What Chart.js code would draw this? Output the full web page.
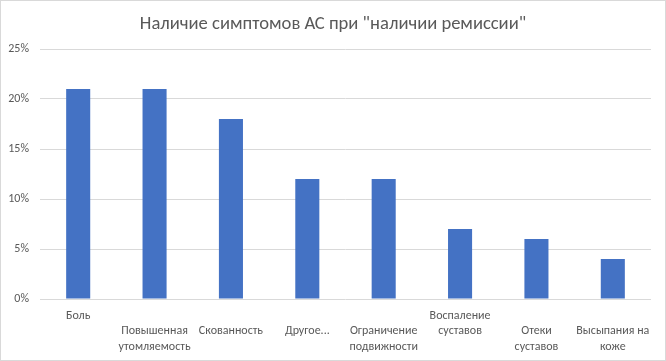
<!DOCTYPE html>
<html>
<head>
<meta charset="utf-8">
<script src="https://cdn.jsdelivr.net/npm/chart.js@4"></script>
<style>
  html, body { margin: 0; padding: 0; background: #fff; }
  #wrap { width: 666px; height: 361px; box-sizing: border-box; border: 1px solid #d9d9d9; position: relative; }
  canvas { display: block; }
</style>
</head>
<body>
<div id="wrap"><canvas id="c" width="664" height="359"></canvas></div>
<script>
// Category labels (line-split as laid out in the reference)
const categories = [
  ["Боль"],
  ["", "Повышенная", "утомляемость"],
  ["", "Скованность"],
  ["", "Другое..."],
  ["", "Ограничение", "подвижности"],
  ["Воспаление", "суставов"],
  ["", "Отеки", "суставов"],
  ["", "Высыпания на", "коже"]
];
const seriesValues = [21, 21, 18, 12, 12, 7, 6, 4];
const yTicks = [0, 5, 10, 15, 20, 25];
const chartTitle = 'Наличие симптомов АС при "наличии ремиссии"';

const FONT = "'Carlito', 'Liberation Sans Narrow', 'Arial Narrow', 'Liberation Sans', sans-serif";
const GREY = '#595959';

new Chart(document.getElementById('c'), {
  type: 'bar',
  data: {
    labels: categories,
    datasets: [{
      data: seriesValues,
      backgroundColor: '#4472c4',
      borderWidth: 0,
      categoryPercentage: 1,
      barPercentage: 0.315
    }]
  },
  options: {
    responsive: false,
    animation: false,
    layout: { padding: 0 },
    plugins: {
      legend: { display: false },
      tooltip: { enabled: false },
      title: {
        display: true,
        text: chartTitle,
        color: GREY,
        font: { family: FONT, size: 18.6, weight: 'normal', lineHeight: 22 / 18.6 },
        padding: { top: 12, bottom: 14 }
      }
    },
    scales: {
      x: {
        grid: { display: false, drawTicks: false },
        border: { display: false },
        ticks: {
          color: GREY,
          font: { family: FONT, size: 12, lineHeight: 15.5 / 12 },
          padding: 9,
          autoSkip: false,
          maxRotation: 0,
          minRotation: 0
        },
        afterFit: s => { s.height = 61; }
      },
      y: {
        min: 0,
        max: 25,
        afterBuildTicks: s => { s.ticks = yTicks.map(v => ({ value: v })); },
        grid: { color: '#d9d9d9', drawTicks: false, lineWidth: 1 },
        border: { display: false },
        ticks: {
          color: GREY,
          font: { family: FONT, size: 12 },
          padding: 11,
          callback: v => v + '%'
        },
        afterFit: s => { s.width = 39; }
      },
      yRight: {
        position: 'right',
        display: true,
        grid: { display: false, drawTicks: false },
        border: { display: false },
        ticks: { display: false },
        afterFit: s => { s.width = 14; }
      }
    }
  }
});
</script>
</body>
</html>
